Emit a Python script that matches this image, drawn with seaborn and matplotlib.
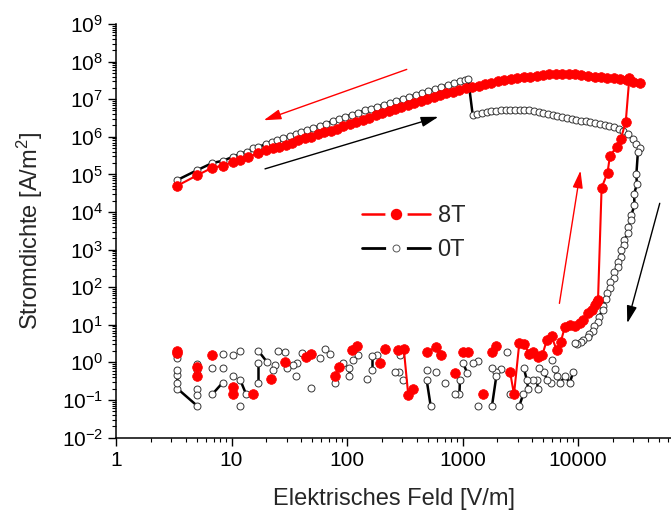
import numpy as np
import pandas as pd
import matplotlib
matplotlib.use("Agg")
import matplotlib.pyplot as plt
import seaborn as sns
from matplotlib.ticker import LogLocator, FuncFormatter, LogFormatterSciNotation, NullFormatter
from matplotlib.lines import Line2D

sns.set_style("ticks")
plt.rcParams['font.family'] = ['Liberation Sans', 'DejaVu Sans']
plt.rcParams['mathtext.fontset'] = 'custom'
plt.rcParams['mathtext.rm'] = 'Liberation Sans'
plt.rcParams['mathtext.it'] = 'Liberation Sans:italic'
plt.rcParams['mathtext.bf'] = 'Liberation Sans:bold'
plt.rcParams['axes.unicode_minus'] = False

# ---------------- data (E in V/m, J in A/m^2) ----------------
# 8T: noisy low branch (separate short runs)
red_low_x = [3.4, 3.4, 5.06, 5.06, 6.8, 10.2, 10.2, 15.2, 22, 29, 44, 48.5, 79, 85, 111, 123,
             193, 213, 276, 310, 339, 375, 490, 590, 650, 860, 1015, 1120, 1500, 1790, 1960]
red_low_y = [2.0, 1.8, 0.76, 0.42, 1.6, 0.22, 0.14, 0.14, 0.35, 1.05, 1.35, 1.7, 0.44, 0.76, 2.1, 2.7,
             0.98, 2.2, 2.1, 2.3, 0.135, 0.2, 1.9, 2.5, 1.55, 0.51, 1.9, 1.9, 0.14, 1.9, 2.7]
red_low_seg = [1, 1, 2, 2, 3, 4, 4, 5, 6, 7, 8, 8, 9, 9, 10, 10,
               11, 12, 13, 13, 13, 13, 14, 14, 14, 15, 16, 16, 17, 18, 18]
# 8T: increasing field, end of low branch
red_path_x = [2580, 2790, 3100, 3400, 3790, 4100, 4530, 4900, 5370, 5900, 6540, 7090, 7700, 8500,
              9400, 10400, 11100, 12300, 13200, 14000, 14600, 14900]
red_path_y = [0.56, 0.14, 3.2, 3.1, 1.7, 1.9, 1.4, 1.55, 3.9, 4.9, 2.1, 3.5, 8.9, 10,
              9.1, 11, 13, 20, 25, 33, 40, 46]
# 8T: switching
red_jump_x = [16000, 18000, 18900, 21600, 23400, 25900, 27800]
red_jump_y = [4.4e4, 1.1e5, 3.1e5, 5.4e5, 8.5e5, 2.5e6, 3.6e7]
# 8T: high-current branch (listed with increasing field, swept downwards)
red_up_x = [3.4, 5.06, 6.8, 8.4, 10.2, 11.8, 14, 17, 20, 23, 26, 29.5, 33.5, 38, 43, 49, 56, 63,
            72, 82, 93, 106, 120, 137, 156, 177, 201, 229, 260, 296, 336, 382, 434, 494, 562,
            639, 726, 826, 939, 1070, 1210, 1380, 1570, 1780, 2030, 2300, 2620, 2980, 3390,
            3850, 4380, 4980, 5660, 6430, 7310, 8310, 9450, 10700, 12200, 13900, 15800, 17900,
            20400, 23200, 26400, 30000, 34100]
red_up_y = [5.0e4, 9.5e4, 1.5e5, 1.7e5, 2.1e5, 2.4e5, 2.9e5, 3.7e5, 4.5e5, 4.9e5, 5.5e5, 6.2e5,
            7.0e5, 8.0e5, 9.0e5, 1.0e6, 1.15e6, 1.3e6, 1.45e6, 1.65e6, 1.9e6, 2.15e6, 2.5e6,
            2.85e6, 3.25e6, 3.7e6, 4.2e6, 4.8e6, 5.5e6, 6.3e6, 7.1e6, 8.1e6, 9.1e6, 1.03e7,
            1.15e7, 1.3e7, 1.45e7, 1.6e7, 1.75e7, 1.95e7, 2.1e7, 2.3e7, 2.5e7, 2.75e7, 3.0e7,
            3.2e7, 3.4e7, 3.6e7, 3.8e7, 4.0e7, 4.2e7, 4.4e7, 4.55e7, 4.65e7, 4.7e7, 4.65e7,
            4.55e7, 4.4e7, 4.2e7, 4.0e7, 3.85e7, 3.7e7, 3.55e7, 3.4e7, 3.2e7, 2.95e7, 2.65e7]

# 0T: high-current branch, increasing field
zero_up_x = [3.4, 5.06, 6.8, 8.4, 10.2, 11.9, 13.5, 15.4, 17, 20, 22.5, 24.6, 28, 32, 36, 40, 45,
             51, 58, 66, 75, 85, 97, 110, 125, 142, 161, 183, 208, 236, 268, 305, 346, 393, 447,
             507, 576, 654, 743, 844, 958, 1050, 1120]
zero_up_y = [7.1e4, 1.3e5, 2.0e5, 2.3e5, 2.9e5, 3.5e5, 4.0e5, 4.9e5, 5.2e5, 6.6e5, 7.3e5, 8.1e5,
             9.2e5, 1.05e6, 1.2e6, 1.35e6, 1.5e6, 1.7e6, 1.95e6, 2.25e6, 2.6e6, 3.0e6, 3.4e6,
             3.9e6, 4.4e6, 5.0e6, 5.6e6, 6.3e6, 7.1e6, 8.0e6, 9.0e6, 1.02e7, 1.15e7, 1.3e7,
             1.47e7, 1.65e7, 1.85e7, 2.1e7, 2.4e7, 2.7e7, 3.05e7, 3.3e7, 3.4e7]
# 0T: intermediate branch after the drop
zero_mid_x = [1225, 1340, 1470, 1620, 1780, 1960, 2150, 2360, 2600, 2850, 3130, 3440, 3780, 4150,
              4560, 5010, 5500, 6050, 6640, 7300, 8020, 8810, 9680, 10600, 11700, 12800, 14100,
              15500, 17000, 18700, 20500, 22500, 24700, 27100, 29800, 32000, 34400]
zero_mid_y = [3.8e6, 4.1e6, 4.4e6, 4.6e6, 4.8e6, 4.95e6, 5.05e6, 5.1e6, 5.2e6, 5.25e6, 5.3e6,
              5.2e6, 5.0e6, 4.8e6, 4.55e6, 4.3e6, 4.05e6, 3.8e6, 3.6e6, 3.4e6, 3.2e6, 3.0e6,
              2.85e6, 2.7e6, 2.55e6, 2.45e6, 2.35e6, 2.25e6, 2.1e6, 1.95e6, 1.8e6, 1.6e6,
              1.4e6, 1.15e6, 8.5e5, 6.5e5, 5.0e5]
# 0T: steep decrease with decreasing field
zero_fall_x = [33000, 32000, 32300, 30600, 30800, 29000, 29000, 27200, 27000, 25200, 25200, 23600,
               23500, 22000, 22000, 20500, 20400, 19000, 19000, 17700, 17600, 16400, 16300, 15100,
               15000, 13800, 13600, 12400, 12100, 11000, 10700, 9800]
zero_fall_y = [4.0e5, 1.0e5, 5.5e4, 3.0e4, 1.5e4, 8.5e3, 6.0e3, 4.0e3, 2.7e3, 1.8e3, 1.3e3, 980,
               650, 480, 350, 250, 180, 140, 95, 68, 48, 32, 24, 16, 12, 9, 7, 5.6, 4.8, 4.0,
               3.4, 3.0]
# 0T: noisy low branch (separate short runs)
zero_low_x = [9400, 9100, 8500, 7700, 7000, 6540, 6300, 5900, 5800, 5370, 5100, 4600, 4500, 4400,
              4100, 3700, 3600, 3400, 3350, 3100, 2580, 2450, 2150, 1940, 1960, 1800, 1800, 1360,
              1230, 1350, 1100, 1015, 950, 940, 860, 710, 640, 590, 490, 490, 530, 305, 290, 282,
              260, 181, 164, 164, 148, 125, 113, 103, 103, 93, 79, 71, 64.5, 58, 48.7, 40.5, 37,
              34, 36.5, 30, 29, 25.4, 24, 23, 20.2, 17.1, 17.1, 17.1, 13.4, 11.9, 11.9, 11.9,
              10.2, 10.2, 8.4, 8.4, 8.4, 6.8, 6.8, 5.06, 5.06, 5.06, 5.06, 5.06, 3.4, 3.4, 3.4,
              3.4, 3.4, 3.4]
zero_low_y = [3.2, 0.56, 0.29, 0.42, 0.29, 0.42, 0.65, 1.15, 0.28, 0.34, 0.56, 0.69, 0.2, 0.34,
              0.34, 0.2, 0.34, 0.69, 0.14, 0.069, 0.14, 1.9, 0.65, 0.56, 0.42, 0.07, 0.69, 1.1,
              0.95, 0.07, 0.51, 0.94, 0.34, 0.14, 0.14, 0.29, 1.7, 0.56, 0.62, 0.33, 0.069, 0.34,
              1.55, 0.56, 0.56, 1.55, 1.5, 0.62, 0.35, 1.55, 1.15, 0.69, 0.42, 0.94, 0.29, 1.7,
              2.2, 1.28, 0.21, 1.8, 0.94, 0.85, 0.42, 0.69, 1.9, 2.0, 0.85, 0.62, 1.04, 2.0,
              0.94, 0.29, 0.14, 0.34, 2.0, 0.069, 1.55, 0.42, 1.7, 0.69, 0.29, 0.14, 0.69, 0.93,
              0.62, 0.2, 0.135, 0.069, 0.2, 0.275, 0.46, 0.62, 1.28, 1.7]
zero_low_seg = [1, 2, 2, 2, 2, 2, 2, 3, 4, 4, 4, 4, 5, 5,
                5, 6, 6, 6, 7, 7, 8, 9, 10, 10, 10, 10, 11, 12,
                12, 13, 14, 14, 15, 15, 15, 16, 17, 18, 19, 20, 20, 21,
                22, 23, 23, 24, 25, 25, 26, 27, 27, 28, 28, 29, 30, 31,
                31, 32, 33, 34, 35, 35, 36, 37, 38, 38, 39, 39, 40, 40,
                41, 41, 42, 42, 43, 44, 45, 46, 47, 48, 49, 49, 50, 51,
                51, 52, 52, 53, 53, 53, 53, 53, 54, 54]

series_labels = ["8T", "0T"]

# ---------------- tables ----------------
red_main_x = red_path_x + red_jump_x + red_up_x[::-1]
red_main_y = red_path_y + red_jump_y + red_up_y[::-1]
df_red = pd.DataFrame({
    "E": red_low_x + red_main_x,
    "J": red_low_y + red_main_y,
    "seg": red_low_seg + [0] * len(red_main_x),
})
zero_main_x = zero_up_x + zero_mid_x + zero_fall_x
zero_main_y = zero_up_y + zero_mid_y + zero_fall_y
df_zero = pd.DataFrame({
    "E": zero_main_x + zero_low_x,
    "J": zero_main_y + zero_low_y,
    "seg": [0] * len(zero_main_x) + zero_low_seg,
})

# ---------------- figure ----------------
fig = plt.figure(figsize=(6.71, 5.16), dpi=100)
ax = fig.add_axes([0.1729, 0.1521, 0.8271, 0.8014])
ax.set_xscale("log")
ax.set_yscale("log")

sns.lineplot(data=df_zero, x="E", y="J", units="seg", estimator=None, sort=False,
             color="black", linewidth=1.8, marker="o", markersize=5.0,
             markerfacecolor="white", markeredgecolor="#333333", markeredgewidth=0.7,
             ax=ax, legend=False)
sns.lineplot(data=df_red, x="E", y="J", units="seg", estimator=None, sort=False,
             color="#ff0000", linewidth=1.5, marker="o", markersize=7.0,
             markerfacecolor="#ff0000", markeredgecolor="#ff0000", markeredgewidth=0.5,
             ax=ax, legend=False)

# arrows indicating sweep direction
astyle = "-|>,head_length=0.75,head_width=0.22"
ax.annotate("", xy=(19, 2.75e6), xytext=(329, 6.2e7),
            arrowprops=dict(arrowstyle=astyle, color="#ff0000", lw=1, shrinkA=0, shrinkB=0, mutation_scale=14))
ax.annotate("", xy=(618, 3.4e6), xytext=(19.5, 1.4e5),
            arrowprops=dict(arrowstyle=astyle, color="black", lw=1, shrinkA=0, shrinkB=0, mutation_scale=14))
ax.annotate("", xy=(10500, 1.26e5), xytext=(6900, 37),
            arrowprops=dict(arrowstyle=astyle, color="#ff0000", lw=1, shrinkA=0, shrinkB=0, mutation_scale=14))
ax.annotate("", xy=(26700, 11), xytext=(51000, 1.7e4),
            arrowprops=dict(arrowstyle=astyle, color="black", lw=1, shrinkA=0, shrinkB=0, mutation_scale=14))

ax.set_xlim(1, 10 ** 4.805)
ax.set_ylim(1e-2, 1e9)

ax.xaxis.set_major_locator(LogLocator(base=10, numticks=10))
ax.xaxis.set_minor_locator(LogLocator(base=10, subs=np.arange(2, 10), numticks=10))
ax.xaxis.set_major_formatter(FuncFormatter(lambda v, p: f"{v:g}"))
ax.xaxis.set_minor_formatter(NullFormatter())
ax.yaxis.set_major_locator(LogLocator(base=10, numticks=15))
ax.yaxis.set_minor_locator(LogLocator(base=10, subs=np.arange(2, 10), numticks=15))
ax.yaxis.set_major_formatter(LogFormatterSciNotation())
ax.yaxis.set_minor_formatter(NullFormatter())

ax.tick_params(which="major", direction="out", length=5.5, width=1, labelsize=15,
               colors="black", pad=4)
ax.tick_params(which="minor", direction="out", length=3.2, width=0.8, colors="black")
sns.despine(ax=ax)
for s in ("left", "bottom"):
    ax.spines[s].set_linewidth(1.1)
    ax.spines[s].set_color("black")

ax.set_xlabel("Elektrisches Feld [V/m]", fontsize=17, labelpad=13)
ax.set_ylabel("Stromdichte [A/m$^2$]", fontsize=17, labelpad=12)

# legend handles: line with a white gap around the symbol, symbol on top
red_mask = Line2D([], [], color="#ff0000", lw=1.8, marker="o", ms=15, mfc="white", mec="white")
red_dot = Line2D([], [], ls="none", marker="o", ms=7.2, mfc="#ff0000", mec="#ff0000")
blk_mask = Line2D([], [], color="black", lw=2.0, marker="o", ms=14, mfc="white", mec="white")
blk_dot = Line2D([], [], ls="none", marker="o", ms=5.0, mfc="white", mec="#555555", mew=0.7)
ax.legend([(red_mask, red_dot), (blk_mask, blk_dot)], series_labels, loc="center left",
          bbox_to_anchor=(0.5395, 0.548), bbox_transform=fig.transFigure, frameon=False,
          fontsize=17, handlelength=2.9, handletextpad=0.3, labelspacing=0.5,
          borderpad=0, borderaxespad=0)

fig.savefig("out.png", dpi=100)
